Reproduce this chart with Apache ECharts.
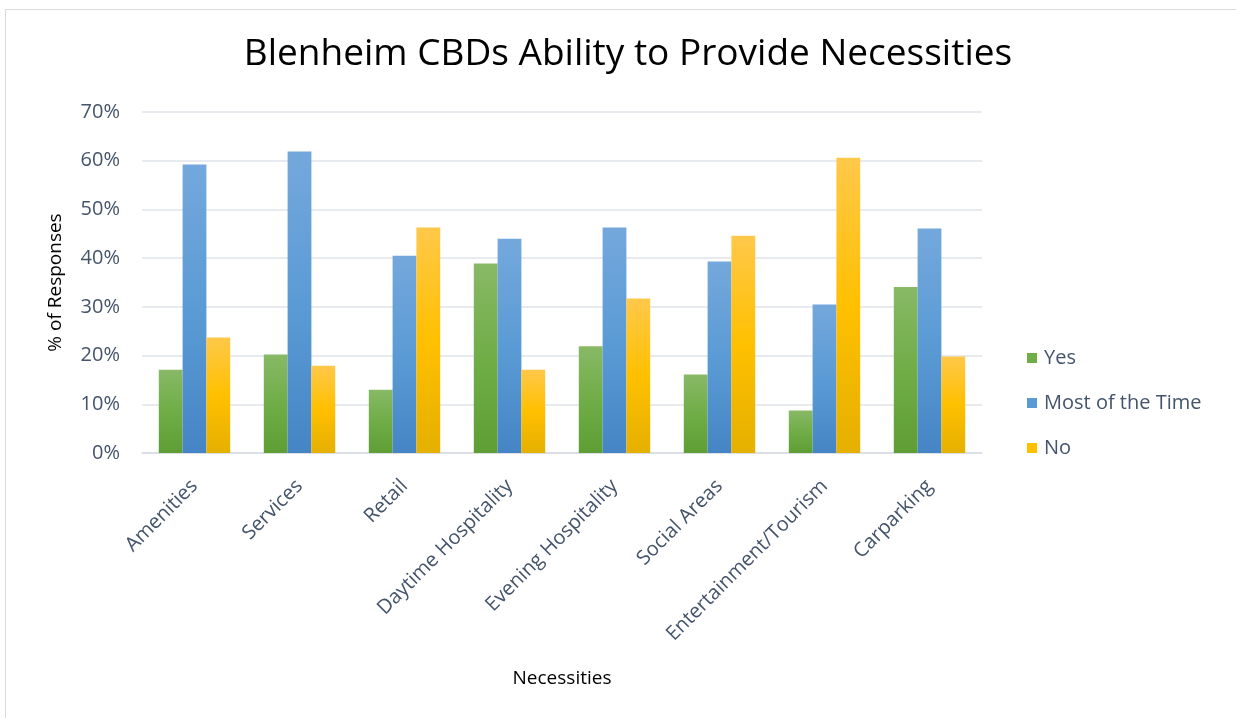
<!DOCTYPE html>
<html>
<head>
<meta charset="utf-8">
<script src="https://cdn.jsdelivr.net/npm/echarts@6/dist/echarts.min.js"></script>
<style>
html,body{margin:0;padding:0;background:#fff;}
#chart{width:1236px;height:718px;}
</style>
</head>
<body>
<div id="chart"></div>
<script>
const categories = ['Amenities','Services','Retail','Daytime Hospitality','Evening Hospitality','Social Areas','Entertainment/Tourism','Carparking'];
const yesValues = [17.1, 20.2, 13.0, 38.9, 21.9, 16.1, 8.7, 34.1];
const mostValues = [59.2, 61.9, 40.5, 44.0, 46.3, 39.3, 30.5, 46.1];
const noValues = [23.7, 17.9, 46.3, 17.1, 31.7, 44.6, 60.6, 19.8];
const seriesNames = ['Yes','Most of the Time','No'];
const yTicks = [0,10,20,30,40,50,60,70];

const FONT = '"Open Sans", "Noto Sans", sans-serif';
const TXT = '#44546a';

function grad(top, mid, bot){
  return new echarts.graphic.LinearGradient(0,0,0,1,[
    {offset:0,color:top},{offset:0.5,color:mid},{offset:1,color:bot}
  ]);
}
const fills = [
  grad('#88b966','#70ad47','#5e9e34'),
  grad('#74a8dc','#5b9bd5','#4585c5'),
  grad('#ffc84a','#ffc000','#e5b000')
];
const legendColors = ['#70ad47','#5b9bd5','#ffc000'];
const dataSets = [yesValues, mostValues, noValues];

const chart = echarts.init(document.getElementById('chart'));
chart.setOption({
  backgroundColor:'#fff',
  animation:false,
  graphic:[{
    type:'rect', left:3, top:7,
    shape:{width:1240,height:720},
    style:{fill:'none',stroke:'#d9d9d9',lineWidth:1}
  }],
  title:{
    text:'Blenheim CBDs Ability to Provide Necessities',
    left:623, top:31, textAlign:'center',
    textStyle:{fontFamily:FONT,fontSize:37,fontWeight:'normal',color:'#000'}
  },
  legend:{
    orient:'vertical', left:1022, top:343,
    itemWidth:10, itemHeight:10, itemGap:25,
    icon:'rect',
    data: seriesNames.map((n,i)=>({name:n, itemStyle:{color:legendColors[i]}})),
    textStyle:{fontFamily:FONT,fontSize:20,color:TXT,padding:[0,0,0,2]}
  },
  grid:{left:142,right:254,top:112,bottom:265,containLabel:false},
  xAxis:{
    type:'category', data:categories,
    name:'Necessities', nameLocation:'middle', nameGap:216,
    nameTextStyle:{fontFamily:FONT,fontSize:19,color:'#000'},
    axisLine:{lineStyle:{color:'#d9dde3',width:1.5}},
    axisTick:{show:false},
    axisLabel:{rotate:45,interval:0,margin:30,fontFamily:FONT,fontSize:20,color:TXT}
  },
  yAxis:{
    type:'value', min:0, max:70, interval:10,
    name:'% of Responses', nameLocation:'middle', nameGap:77,
    nameTextStyle:{fontFamily:FONT,fontSize:19,color:'#000'},
    axisLine:{show:false}, axisTick:{show:false},
    axisLabel:{formatter:'{value}%',margin:22,fontFamily:FONT,fontSize:20,color:TXT},
    splitLine:{lineStyle:{color:'#dfe3e8',width:1.5}}
  },
  series: seriesNames.map((n,i)=>({
    name:n, type:'bar', data:dataSets[i],
    barGap:'0%', barCategoryGap:'32%',
    itemStyle:{color:fills[i]}
  }))
});
</script>
</body>
</html>
